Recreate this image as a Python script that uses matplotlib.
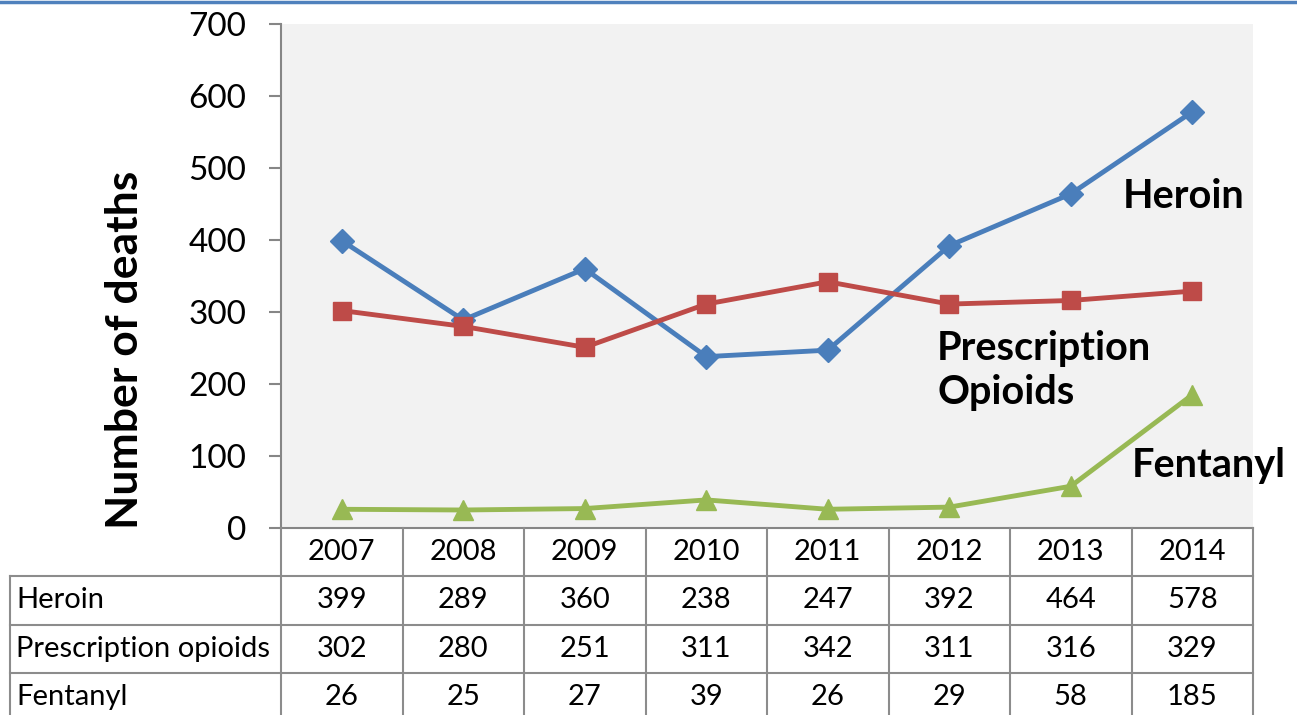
import matplotlib
matplotlib.use('Agg')
import numpy as np
from matplotlib import pyplot as plt
from matplotlib.lines import Line2D

years = ['2007', '2008', '2009', '2010', '2011', '2012', '2013', '2014']
heroin = [399, 289, 360, 238, 247, 392, 464, 578]
prescription = [302, 280, 251, 311, 342, 311, 316, 329]
fentanyl = [26, 25, 27, 39, 26, 29, 58, 185]
row_names = ['Heroin', 'Prescription opioids', 'Fentanyl']
y_ticks = [0, 100, 200, 300, 400, 500, 600, 700]

plt.rcParams['font.family'] = ['Lato', 'DejaVu Sans']

W, H = 1297, 715
fig = plt.figure(figsize=(W / 100, H / 100), dpi=100)
fig.patch.set_facecolor('white')

# plot area in pixels
L, R, T, B = 281, 1253, 24, 528
ax = fig.add_axes([L / W, 1 - B / H, (R - L) / W, (B - T) / H])
ax.set_facecolor('#F2F2F2')
x = np.arange(len(years))

ax.plot(x, heroin, color='#4A7EBB', lw=3.5, marker='D', ms=12, zorder=3)
ax.plot(x, prescription, color='#BE4B48', lw=3.5, marker='s', ms=13.5, zorder=3)
ax.plot(x, fentanyl, color='#98B954', lw=3.5, marker='^', ms=14.5, zorder=3)

ax.set_xlim(-0.5, len(years) - 0.5)
ax.set_ylim(0, 700)
ax.set_yticks(y_ticks)
ax.set_yticklabels([str(v) for v in y_ticks], fontsize=24)
ax.set_xticks([])
for s in ['top', 'right']:
    ax.spines[s].set_visible(False)
for s in ['left', 'bottom']:
    ax.spines[s].set_color('#868686')
    ax.spines[s].set_linewidth(1.5)
ax.tick_params(axis='y', length=9, width=1.5, color='#868686', pad=16)

# series labels
lab = dict(fontsize=28.5, fontweight='bold', va='center', ha='left')
ax.text(6.43, 460, 'Heroin', **lab)
ax.text(4.9, 219, 'Prescription\nOpioids', linespacing=1.25, **lab)
ax.text(6.5, 87, 'Fentanyl', **lab)

fig.text(125 / W, 1 - 350 / H, 'Number of deaths', rotation=90, fontsize=32,
         fontweight='bold', ha='center', va='center')

# data table below the chart
row_h = 48.3
tab = fig.add_axes([L / W, 1 - (B + 4 * row_h) / H, (R - L) / W, 4 * row_h / H])
tab.set_xlim(-0.5, len(years) - 0.5)
tab.set_ylim(4, 0)
tab.axis('off')
px = (len(years)) / (R - L)
x_left = -0.5 - (L - 10) * px
grid = dict(color='#8C8C8C', lw=1.5, clip_on=False)
for i in range(len(years) + 1):
    tab.add_line(Line2D([i - 0.5, i - 0.5], [0, 4], **grid))
tab.add_line(Line2D([x_left, x_left], [1, 4], **grid))
for r in [1, 2, 3]:
    tab.add_line(Line2D([x_left, len(years) - 0.5], [r, r], **grid))
for i, yr in enumerate(years):
    tab.text(i, 0.5, yr, ha='center', va='center', fontsize=21)
for r, (name, vals) in enumerate(zip(row_names, [heroin, prescription, fentanyl]), start=1):
    tab.text(-0.5 - (L - 16) * px, r + 0.5, name, ha='left', va='center', fontsize=21, clip_on=False)
    for i, v in enumerate(vals):
        tab.text(i, r + 0.5, str(v), ha='center', va='center', fontsize=21)

# thin blue rule at top
fig.add_artist(Line2D([0, 1], [1 - 1.5 / H, 1 - 1.5 / H], color='#4F81BD', lw=2.5,
                      transform=fig.transFigure))

fig.savefig('out.png', dpi=100)
